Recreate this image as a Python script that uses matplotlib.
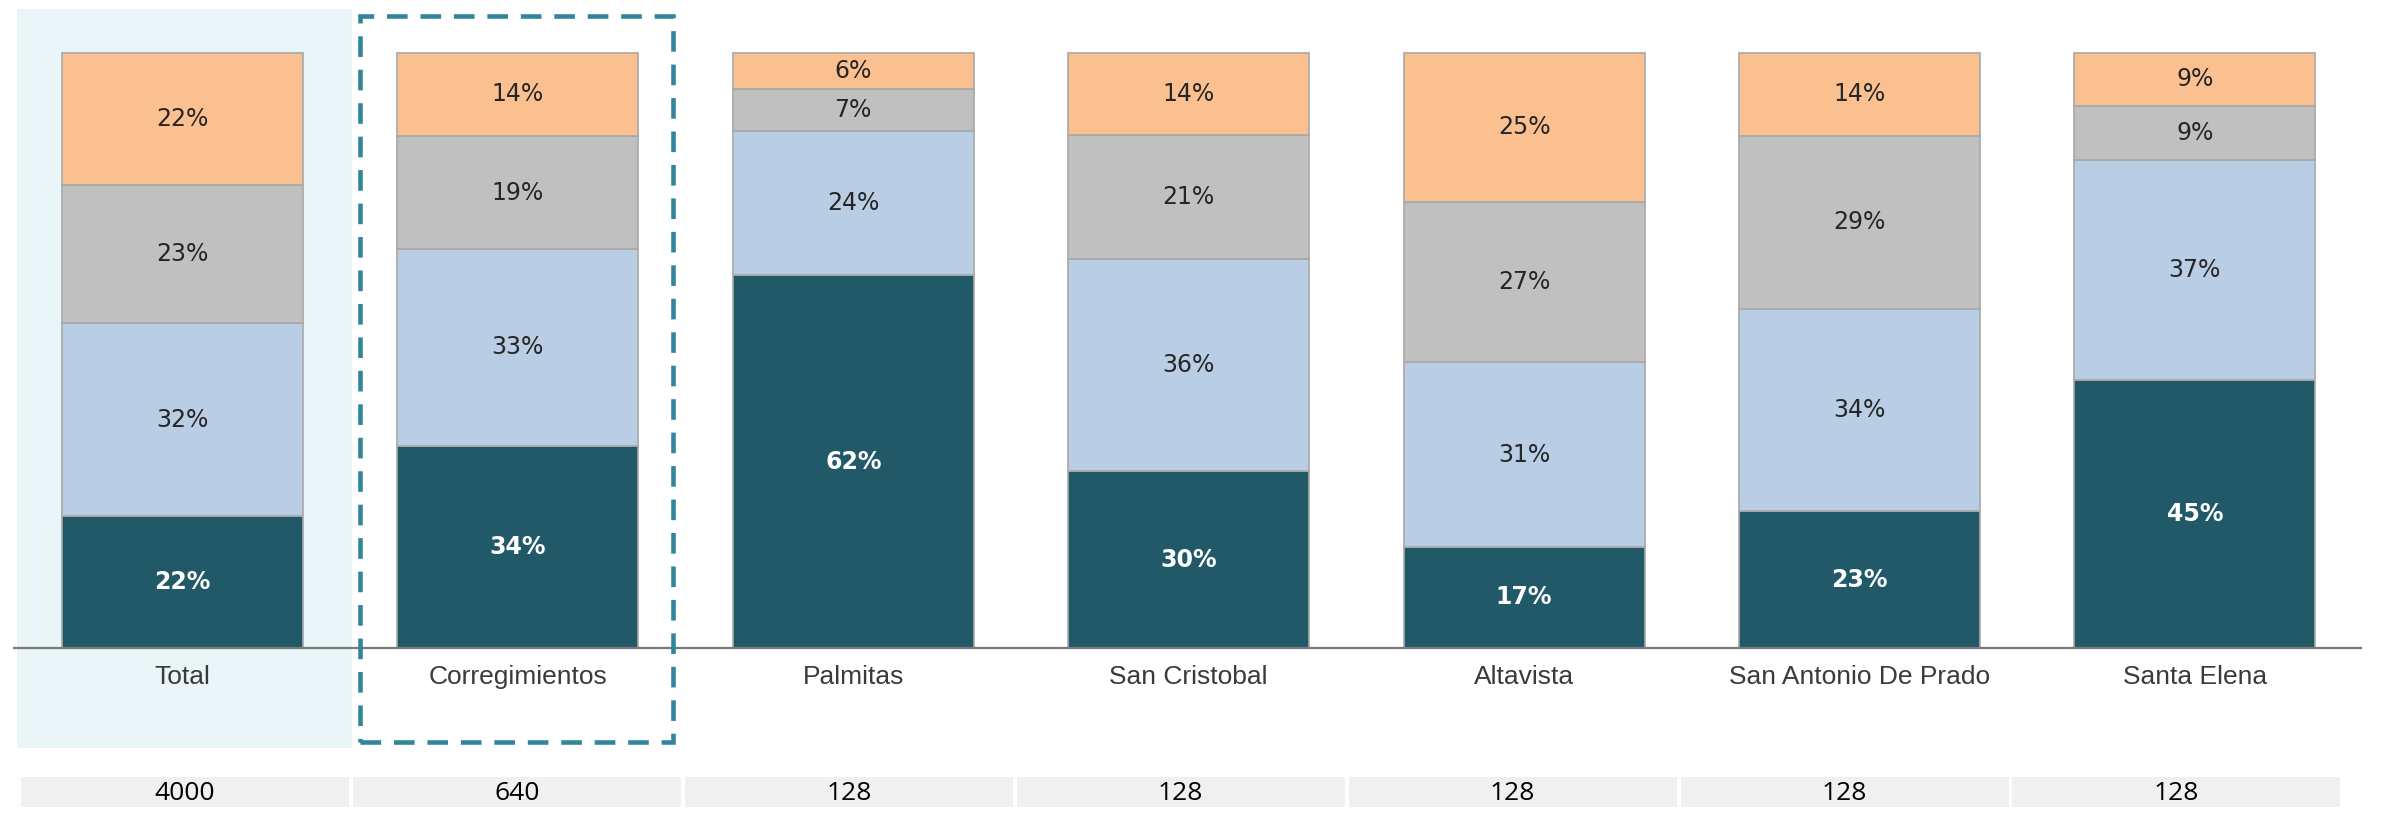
import numpy as np
import matplotlib.pyplot as plt
from matplotlib.patches import Rectangle

# Datos del gráfico (porcentajes por segmento, de abajo hacia arriba)
categorias = ['Total', 'Corregimientos', 'Palmitas', 'San Cristobal',
              'Altavista', 'San Antonio De Prado', 'Santa Elena']
serie_1 = [22, 34, 62, 30, 17, 23, 45]   # azul oscuro
serie_2 = [32, 33, 24, 36, 31, 34, 37]   # azul claro
serie_3 = [23, 19, 7, 21, 27, 29, 9]     # gris
serie_4 = [22, 14, 6, 14, 25, 14, 9]     # naranja
muestras = [4000, 640, 128, 128, 128, 128, 128]

colores = ['#215968', '#b9cde5', '#c0c0c0', '#fac08f']
colores_texto = ['white', '#262626', '#262626', '#262626']

W, H = 2382, 814
fig = plt.figure(figsize=(W / 100, H / 100), dpi=100)
ax = fig.add_axes([0, 0, 1, 1])

# escala: centro de la primera barra en px 182.5, paso 335.4 px; y=0 en px 648, 100% = 595.3 px
paso = 335.4
x0 = 182.5
base = 648
escala = 595.3 / 100
ax.set_xlim((0 - x0) / paso, (W - x0) / paso)
ax.set_ylim((base - H) / escala, base / escala)
ax.axis('off')

x = np.arange(len(categorias))
series = np.array([serie_1, serie_2, serie_3, serie_4], dtype=float)
totales = series.sum(axis=0)
alturas = series / totales * 100  # barras apiladas al 100 %

# fondo resaltado para "Total"
ax.add_patch(Rectangle(((17 - x0) / paso, (base - 748) / escala),
                       (352 - 17) / paso, (748 - 9) / escala,
                       facecolor='#eaf5f8', edgecolor='none', zorder=0))

# barras apiladas
abajo = np.zeros(len(categorias))
for k in range(4):
    ax.bar(x, alturas[k], bottom=abajo, width=0.718, color=colores[k],
           edgecolor='#a8a8a8', linewidth=1.2, zorder=2)
    for i in range(len(categorias)):
        ax.text(x[i], abajo[i] + alturas[k][i] / 2, f'{int(series[k][i])}%',
                ha='center', va='center', fontsize=17,
                fontweight='bold' if k == 0 else 'normal',
                color=colores_texto[k], zorder=3)
    abajo += alturas[k]

# línea base
ax.plot([(13 - x0) / paso, (2362 - x0) / paso], [0, 0], color='#7a7a7a',
        linewidth=1.6, zorder=4, solid_capstyle='butt')

# etiquetas de categoría
for i, c in enumerate(categorias):
    ax.text(x[i], (base - 677) / escala, c, ha='center', va='center',
            fontsize=19, family='Liberation Sans', color='#3a3a3a')

# recuadro punteado para "Corregimientos"
ax.add_patch(Rectangle(((360 - x0) / paso, (base - 742) / escala),
                       (673 - 360) / paso, (742 - 16) / escala,
                       facecolor='none', edgecolor='#31859c', linewidth=3.3,
                       linestyle=(0, (4.5, 2.8)), zorder=5))

# fila de tamaños de muestra
izq = (21 - x0) / paso
paso_celda = 331.9 / paso
ancho_celda = 328 / paso
for i, n in enumerate(muestras):
    ax.add_patch(Rectangle((izq + i * paso_celda, (base - 807) / escala),
                           ancho_celda, 30 / escala,
                           facecolor='#f0f0f0', edgecolor='none', zorder=1))
    ax.text(izq + i * paso_celda + ancho_celda / 2, (base - 793) / escala, str(n),
            ha='center', va='center', fontsize=19, family='Open Sans', color='black')

fig.savefig('out.png', dpi=100)
